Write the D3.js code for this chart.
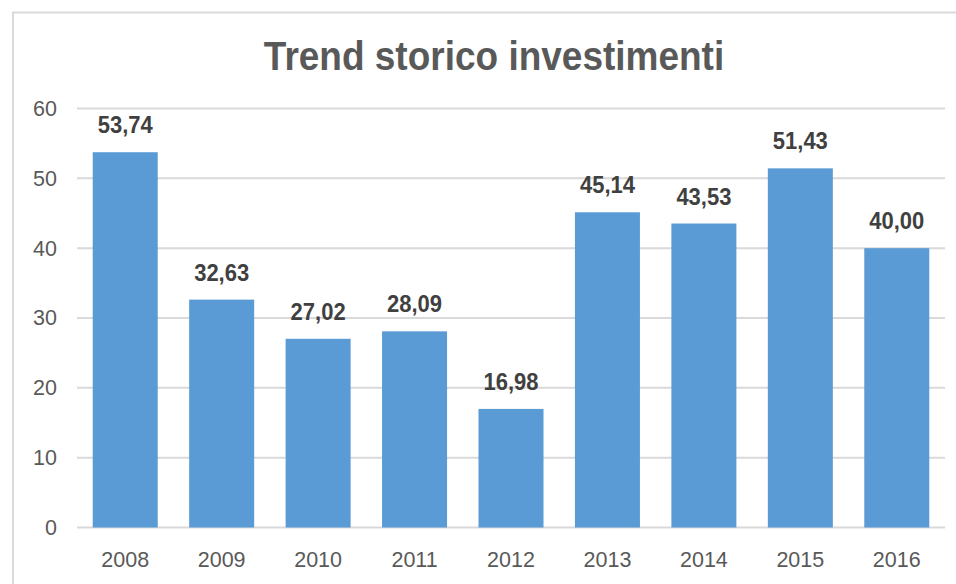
<!DOCTYPE html>
<html>
<head>
<meta charset="utf-8">
<script src="https://cdn.jsdelivr.net/npm/d3@7"></script>
<style>
  html, body { margin: 0; padding: 0; background: #ffffff; }
  svg { display: block; }
</style>
</head>
<body>
<svg id="chart" width="956" height="584"></svg>
<script>
const title = "Trend storico investimenti";
const years = ["2008", "2009", "2010", "2011", "2012", "2013", "2014", "2015", "2016"];
const values = [53.74, 32.63, 27.02, 28.09, 16.98, 45.14, 43.53, 51.43, 40.00];
const yTicks = [0, 10, 20, 30, 40, 50, 60];

(function () {
const svg = d3.select("#chart");
const font = "'Liberation Sans', Arial, sans-serif";

// outer chart border
svg.append("rect")
  .attr("x", 13).attr("y", 12.5)
  .attr("width", 980).attr("height", 600)
  .attr("fill", "#ffffff")
  .attr("stroke", "#d9d9d9")
  .attr("stroke-width", 2);

const pLeft = 77, pRight = 945, pTop = 108.5, pBottom = 527.5;

const x = d3.scaleBand().domain(years).range([pLeft, pRight]).paddingInner(0.326).paddingOuter(0.163);
const y = d3.scaleLinear().domain([0, 60]).range([pBottom, pTop]);

// gridlines
svg.append("g")
  .selectAll("line")
  .data(yTicks)
  .join("line")
  .attr("x1", pLeft).attr("x2", pRight)
  .attr("y1", d => y(d)).attr("y2", d => y(d))
  .attr("stroke", "#d9d9d9")
  .attr("stroke-width", 2);

// y axis labels
const yAxis = d3.axisLeft(y).tickValues(yTicks).tickSize(0).tickPadding(0);
const gy = svg.append("g").attr("transform", "translate(57,0)").call(yAxis);
gy.select(".domain").remove();
gy.selectAll("text")
  .attr("font-family", font)
  .attr("font-size", 21.5)
  .attr("fill", "#595959");

// bars
svg.append("g")
  .selectAll("rect")
  .data(values)
  .join("rect")
  .attr("x", (d, i) => x(years[i]))
  .attr("width", x.bandwidth())
  .attr("y", d => y(d))
  .attr("height", d => y(0) - y(d))
  .attr("fill", "#5b9bd5");

// data labels
const fmt = d => d.toFixed(2).replace(".", ",");
svg.append("g")
  .selectAll("text")
  .data(values)
  .join("text")
  .attr("transform", (d, i) => `translate(${x(years[i]) + x.bandwidth() / 2},${y(d) - 19}) scale(1,1.08)`)
  .attr("text-anchor", "middle")
  .attr("font-family", font)
  .attr("font-weight", "bold")
  .attr("font-size", 22)
  .attr("fill", "#404040")
  .text(fmt);

// x axis labels
const xAxis = d3.axisBottom(x).tickSize(0).tickPadding(0);
const gx = svg.append("g").attr("transform", `translate(0,${pBottom})`).call(xAxis);
gx.select(".domain").remove();
gx.selectAll("text")
  .attr("dy", null)
  .attr("y", 39)
  .attr("font-family", font)
  .attr("font-size", 21.5)
  .attr("fill", "#595959");

// title
svg.append("text")
  .attr("transform", "translate(494,69.5) scale(1,1.1)")
  .attr("text-anchor", "middle")
  .attr("font-family", font)
  .attr("font-weight", "bold")
  .attr("font-size", 37)
  .attr("fill", "#595959")
  .text(title);
})();
</script>
</body>
</html>
